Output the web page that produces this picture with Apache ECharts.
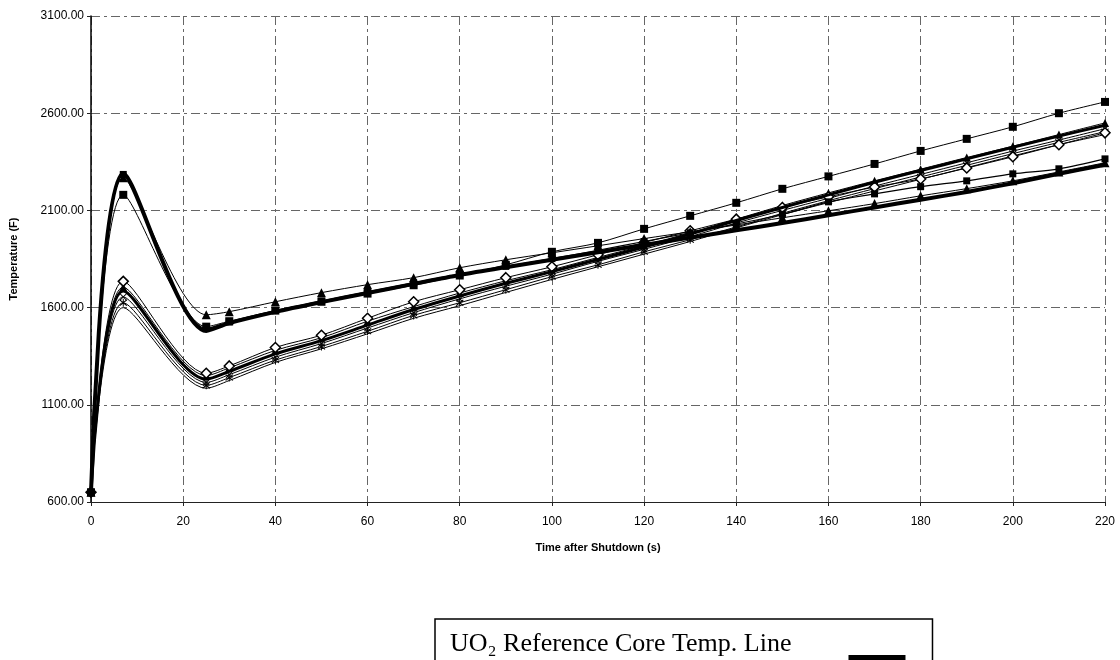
<!DOCTYPE html>
<html><head><meta charset="utf-8">
<script src="https://cdn.jsdelivr.net/npm/echarts@6/dist/echarts.min.js"></script>
<style>html,body{margin:0;padding:0;background:#fff}#c{width:1120px;height:660px}</style>
</head><body><div id="c"></div>
<script>
// time points (s)
const times = [0, 7, 25, 30, 40, 50, 60, 70, 80, 90, 100, 110, 120, 130, 140, 150, 160, 170, 180, 190, 200, 210, 220];
const xTicks = [0, 20, 40, 60, 80, 100, 120, 140, 160, 180, 200, 220];
const yTicks = [600, 1100, 1600, 2100, 2600, 3100];
// upper group
const refThick  = [650, 2290, 1480, 1520, 1578, 1628, 1675, 1722, 1768, 1808, 1846, 1885, 1922, 1960, 1998, 2035, 2075, 2115, 2155, 2195, 2240, 2288, 2335];
const upTri     = [650, 2268, 1563, 1579, 1630, 1677, 1718, 1754, 1805, 1846, 1882, 1918, 1955, 1990, 2025, 2062, 2098, 2135, 2175, 2212, 2252, 2298, 2345];
const upSqTop   = [650, 2180, 1502, 1530, 1585, 1630, 1672, 1715, 1765, 1820, 1887, 1933, 2005, 2072, 2139, 2211, 2275, 2339, 2406, 2468, 2530, 2600, 2658];
const upSqLow   = [650, 2285, 1492, 1526, 1584, 1634, 1681, 1728, 1772, 1812, 1852, 1895, 1940, 1985, 2030, 2080, 2144, 2185, 2222, 2252, 2288, 2314, 2365];
// lower group
const loDiam    = [650, 1735, 1262, 1300, 1395, 1458, 1545, 1630, 1692, 1754, 1810, 1872, 1935, 1995, 2055, 2115, 2170, 2220, 2262, 2318, 2376, 2438, 2499];
const loTri     = [650, 1705, 1250, 1290, 1380, 1445, 1530, 1605, 1675, 1738, 1795, 1858, 1920, 1985, 2055, 2125, 2190, 2252, 2312, 2372, 2430, 2490, 2550];
const loThick   = [650, 1685, 1232, 1272, 1362, 1430, 1510, 1590, 1660, 1725, 1785, 1848, 1912, 1978, 2048, 2115, 2180, 2245, 2305, 2365, 2425, 2482, 2538];
const loX       = [650, 1655, 1215, 1255, 1345, 1415, 1495, 1574, 1645, 1710, 1772, 1838, 1900, 1965, 2035, 2100, 2162, 2225, 2285, 2345, 2405, 2462, 2520];
const loStar    = [650, 1625, 1200, 1240, 1330, 1400, 1478, 1560, 1625, 1692, 1759, 1820, 1887, 1949, 2015, 2085, 2150, 2212, 2272, 2332, 2392, 2450, 2505];
const loPlain   = [650, 1600, 1185, 1225, 1318, 1388, 1465, 1545, 1610, 1678, 1745, 1810, 1875, 1940, 2010, 2078, 2140, 2200, 2260, 2320, 2380, 2438, 2490];

const legendName = 'UO\u2082 Reference Core Temp. Line';
const X_PATH = 'path://M1,0L5,4L9,0L10,1L6,5L10,9L9,10L5,6L1,10L0,9L4,5L0,1Z';
const STAR_PATH = 'path://M1,1L5,4.6L9,1L10,2L6,5.5L10,9L9,10L5,6.4L1,10L0,9L4,5.5L0,2Z M4.4,0L5.6,0L5.6,11L4.4,11Z';

function pts(v){ return times.map((t,i)=>[t, v[i]]); }
function ser(name, v, width, symbol, size, hollow){
  return {
    name, type:'line', data: pts(v), smooth: 0.3,
    symbol: symbol || 'none', symbolSize: size || 8, showSymbol: !!symbol,
    lineStyle:{color:'#000', width: width},
    itemStyle:{color: hollow ? '#fff' : '#000', borderColor:'#000', borderWidth: hollow ? 1.5 : 0},
    emphasis:{disabled:true}, animation:false, z: width>2 ? 3 : 2
  };
}

const chart = echarts.init(document.getElementById('c'), null, {renderer:'canvas'});
chart.setOption({
  backgroundColor:'#fff',
  animation:false,
  grid:{left:91, right:15, top:16, bottom:158, containLabel:false},
  xAxis:{
    type:'value', min:0, max:220, interval:20,
    name:'Time after Shutdown (s)', nameLocation:'middle', nameGap:40,
    nameTextStyle:{fontFamily:'"Liberation Sans", Arial, sans-serif', fontWeight:'bold', fontSize:11, color:'#000'},
    axisLine:{show:true, onZero:false, lineStyle:{color:'#222', width:1}},
    axisTick:{show:true, length:4, inside:false, lineStyle:{color:'#222'}},
    axisLabel:{margin:14, fontFamily:'"Liberation Sans", Arial, sans-serif', fontSize:12, color:'#000',
      formatter: v => xTicks.includes(v) ? String(v) : ''},
    splitLine:{show:true, lineStyle:{color:'#666', width:1, type:[9,4,3,4]}}
  },
  yAxis:{
    type:'value', min:600, max:3100, interval:500,
    name:'Temperature (F)', nameLocation:'middle', nameGap:72, nameRotate:90,
    nameTextStyle:{fontFamily:'"Liberation Sans", Arial, sans-serif', fontWeight:'bold', fontSize:11, color:'#000'},
    axisLine:{show:true, onZero:false, lineStyle:{color:'#000', width:1.5}},
    axisTick:{show:true, length:4, inside:false, lineStyle:{color:'#222'}},
    axisLabel:{margin:7, fontFamily:'"Liberation Sans", Arial, sans-serif', fontSize:12, color:'#000',
      formatter: v => yTicks.includes(v) ? v.toFixed(2) : ''},
    splitLine:{show:true, lineStyle:{color:'#666', width:1, type:[9,4,3,4]}}
  },
  legend:{
    data:[{name: legendName, icon:'path://M0,0L57,0L57,0.01L0,0.01Z M0,27L57,27L57,33L0,33Z'}],
    left:435, top:619, orient:'horizontal', align:'right',
    itemWidth:57, itemHeight:33,
    backgroundColor:'#fff', borderColor:'#000', borderWidth:1.5, borderRadius:0,
    padding:[9, 27, 40, 15],
    textStyle:{fontFamily:'"Liberation Serif", "DejaVu Serif", "Times New Roman", serif', fontSize:26, color:'#000', padding:[0, 52, 0, 0]},
    selectedMode:false
  },
  series:[
    ser('Lower plain', loPlain, 1, 'none'),
    ser('Lower star', loStar, 1, STAR_PATH, 8),
    ser('Lower x', loX, 1, X_PATH, 7),
    ser('Lower thick', loThick, 3, 'none'),
    ser('Lower triangle', loTri, 1, 'triangle', 8),
    ser('Lower diamond', loDiam, 1, 'diamond', 10, true),
    ser('Upper square low', upSqLow, 1.2, 'rect', 7),
    ser('Upper square top', upSqTop, 1, 'rect', 8),
    ser('Upper triangle', upTri, 1, 'triangle', 9),
    ser(legendName, refThick, 4, 'none')
  ]
});
</script></body></html>
